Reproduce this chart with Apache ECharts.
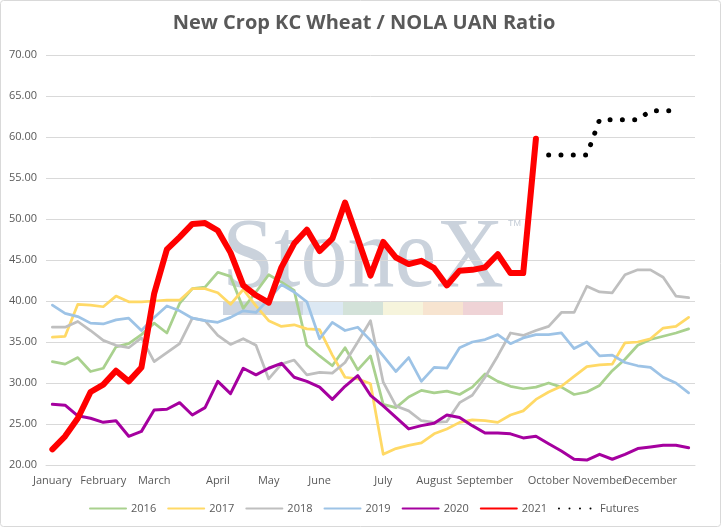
<!DOCTYPE html>
<html>
<head>
<meta charset="utf-8">
<script src="https://cdn.jsdelivr.net/npm/echarts@6/dist/echarts.min.js"></script>
<style>html,body{margin:0;padding:0;background:#fff}#c{width:728px;height:528px}</style>
</head>
<body>
<div id="c"></div>
<script>
// ---- data ----
const monthNames = ['January','February','March','April','May','June','July','August','September','October','November','December'];
const monthStartWeek = [0,4,8,13,17,21,26,30,34,39,43,47];
const weekCount = 51;

const s2016 = [32.6,32.3,33.1,31.4,31.8,34.4,34.8,35.9,37.3,36.1,39.7,41.5,41.7,43.5,43.0,39.1,41.1,43.2,42.3,41.3,34.6,33.3,32.1,34.3,31.6,33.3,27.4,27.0,28.3,29.1,28.8,29.0,28.6,29.5,31.1,30.2,29.6,29.3,29.5,30.0,29.5,28.6,28.9,29.7,31.5,32.9,34.6,35.3,35.7,36.1,36.6];
const s2017 = [35.6,35.7,39.6,39.5,39.3,40.6,39.9,39.9,40.0,40.1,40.1,41.5,41.5,41.0,39.6,41.4,39.4,37.6,36.9,37.1,36.6,36.5,33.4,30.7,30.5,29.9,21.3,22.0,22.4,22.7,23.8,24.4,25.2,25.5,25.4,25.2,26.1,26.6,28.0,28.9,29.6,30.8,32.0,32.2,32.3,34.9,35.0,35.4,36.7,36.9,38.0];
const s2018 = [36.8,36.8,37.5,36.4,35.2,34.6,34.3,35.5,32.6,33.7,34.8,37.9,37.6,35.8,34.7,35.4,34.6,30.5,32.3,32.8,31.0,31.3,31.2,32.5,35.0,37.6,30.1,27.2,26.6,25.4,25.2,25.3,27.6,28.5,30.7,33.3,36.1,35.8,36.4,36.9,38.6,38.6,41.8,41.1,41.0,43.2,43.8,43.8,42.9,40.6,40.4];
const s2019 = [39.5,38.5,38.1,37.3,37.2,37.7,37.9,36.4,38.0,39.4,38.8,37.9,37.6,37.4,38.0,38.8,38.6,40.2,42.0,41.1,39.9,35.4,37.4,36.4,36.8,35.2,33.3,31.4,33.1,30.2,31.9,31.8,34.3,35.0,35.3,35.9,34.8,35.5,35.9,35.9,36.1,34.2,35.0,33.3,33.4,32.5,32.1,31.9,30.7,30.0,28.8];
const s2020 = [27.4,27.3,26.0,25.7,25.2,25.4,23.5,24.1,26.7,26.8,27.6,26.1,27.0,30.2,28.7,31.8,31.0,31.8,32.4,30.7,30.2,29.5,28.0,29.6,30.9,28.5,27.2,25.8,24.4,24.8,25.1,26.1,25.8,24.8,23.9,23.9,23.8,23.3,23.5,22.6,21.7,20.7,20.6,21.3,20.7,21.3,22.0,22.2,22.4,22.4,22.1];
const s2021 = [21.9,23.5,25.7,28.9,29.8,31.5,30.2,31.9,40.9,46.3,47.8,49.4,49.5,48.6,45.9,41.9,40.7,39.8,44.1,47.0,48.7,46.1,47.6,52.0,47.6,43.1,47.2,45.3,44.5,44.9,44.0,41.9,43.7,43.8,44.1,45.7,43.4,43.4,59.8];
const futuresStartWeek = 39;
const futures = [57.8,57.8,57.8,57.8,62.1,62.1,62.1,62.1,63.2,63.2,63.2];

const yMin = 20, yMax = 70, yStep = 5;

// ---- build ----
const categories = [];
for (let i = 0; i < weekCount; i++) {
  const m = monthStartWeek.indexOf(i);
  categories.push(m >= 0 ? monthNames[m] : '');
}
const futuresData = [];
for (let i = 0; i < futuresStartWeek; i++) futuresData.push('-');
futures.forEach(v => futuresData.push(v));

const font = '"Open Sans", "Liberation Sans", sans-serif';
function lineSeries(name, data, color, width) {
  return {
    name, type: 'line', data, symbol: 'none', smooth: false,
    lineStyle: { color, width, join: 'round', cap: 'round' },
    itemStyle: { color },
    emphasis: { disabled: true }
  };
}

const chart = echarts.init(document.getElementById('c'), null, { renderer: 'canvas' });
chart.setOption({
  animation: false,
  backgroundColor: '#ffffff',
  title: {
    text: 'New Crop KC Wheat / NOLA UAN Ratio',
    left: 'center', top: 8,
    textStyle: { fontFamily: font, fontSize: 20, fontWeight: 'bold', color: '#595959' }
  },
  grid: { left: 46, right: 33, top: 55, bottom: 63, containLabel: false },
  xAxis: {
    type: 'category', data: categories, boundaryGap: true,
    axisLine: { show: true, lineStyle: { color: '#d9d9d9', width: 1 } },
    axisTick: { show: false },
    axisLabel: { interval: 0, color: '#595959', fontFamily: font, fontSize: 11, margin: 10 },
    splitLine: { show: false }
  },
  yAxis: {
    type: 'value', min: yMin, max: yMax, interval: yStep,
    axisLine: { show: false }, axisTick: { show: false },
    axisLabel: { color: '#595959', fontFamily: font, fontSize: 11, margin: 9, formatter: v => v.toFixed(2) },
    splitLine: { lineStyle: { color: '#d9d9d9', width: 1 } }
  },
  legend: {
    bottom: 9, left: 'center', itemWidth: 36, itemHeight: 10, itemGap: 11,
    itemStyle: { opacity: 0 },
    textStyle: { fontFamily: font, fontSize: 11, color: '#595959' },
    data: ['2016','2017','2018','2019','2020','2021',
      { name: 'Futures', lineStyle: { type: [0.01, 10.5], cap: 'round' } }]
  },
  graphic: [
    { type: 'rect', silent: true, z: -10, shape: { x: 0.5, y: 0.5, width: 720, height: 526, r: 3 }, style: { fill: 'none', stroke: '#d9d9d9', lineWidth: 1 } },
    { type: 'text', silent: true, z: -5, x: 222, y: 210, scaleX: 0.94, style: { text: 'StoneX', font: '100px "Liberation Serif", "DejaVu Serif", serif', fill: '#cad2dc' } },
    { type: 'text', silent: true, z: -5, x: 508, y: 219, style: { text: 'TM', font: '9px "Liberation Sans", sans-serif', fill: '#c4ccd6' } },
    { type: 'rect', silent: true, z: -5, shape: { x: 223, y: 302, width: 80, height: 13 }, style: { fill: '#cdd5e0' } },
    { type: 'rect', silent: true, z: -5, shape: { x: 303, y: 302, width: 40, height: 13 }, style: { fill: '#dce8f3' } },
    { type: 'rect', silent: true, z: -5, shape: { x: 343, y: 302, width: 40, height: 13 }, style: { fill: '#d3e2d9' } },
    { type: 'rect', silent: true, z: -5, shape: { x: 383, y: 302, width: 40, height: 13 }, style: { fill: '#f6f4dc' } },
    { type: 'rect', silent: true, z: -5, shape: { x: 423, y: 302, width: 40, height: 13 }, style: { fill: '#f7e4d0' } },
    { type: 'rect', silent: true, z: -5, shape: { x: 463, y: 302, width: 40, height: 13 }, style: { fill: '#efd3d6' } }
  ],
  series: [
    lineSeries('2016', s2016, '#a9d18e', 2.75),
    lineSeries('2017', s2017, '#ffd966', 2.75),
    lineSeries('2018', s2018, '#bfbfbf', 2.75),
    lineSeries('2019', s2019, '#9dc3e6', 2.75),
    lineSeries('2020', s2020, '#a5009f', 3),
    lineSeries('2021', s2021, '#ff0000', 6),
    {
      name: 'Futures', type: 'line', data: futuresData, symbol: 'none',
      lineStyle: { color: '#000000', width: 5, type: [0.01, 12.3], cap: 'round', join: 'round' },
      itemStyle: { color: '#000000' },
      emphasis: { disabled: true }
    }
  ]
});
</script>
</body>
</html>
